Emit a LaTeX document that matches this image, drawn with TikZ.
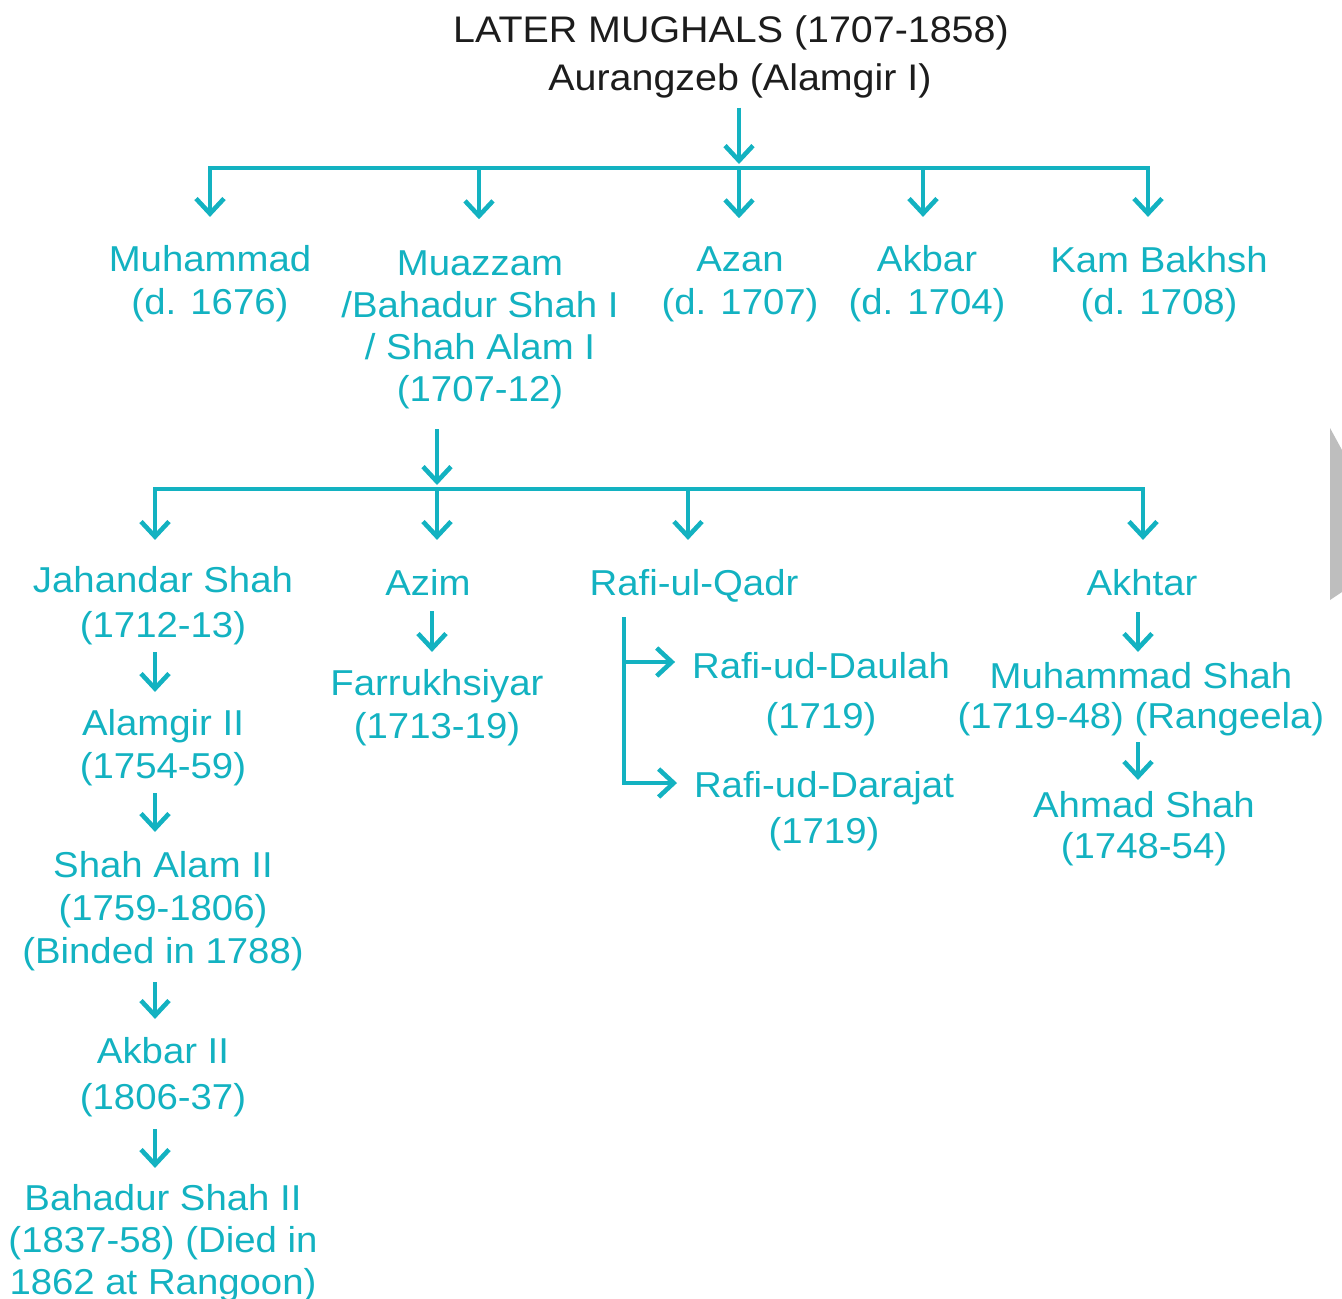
\documentclass[tikz,border=0pt]{standalone}
\usepackage{fontspec}
\setmainfont[FakeStretch=1.065]{Liberation Sans}
\usetikzlibrary{arrows.meta}
\definecolor{tealc}{RGB}{19,178,193}
\definecolor{inkc}{RGB}{28,28,28}
\definecolor{edgegray}{RGB}{190,190,190}
\begin{document}
\begin{tikzpicture}[x=1pt,y=-1pt,
  lbl/.style={inner sep=0pt, outer sep=0pt, align=center, anchor=base, text=tealc,
    font=\fontsize{36}{44}\selectfont,
    execute at begin node=\vphantom{(}, execute at end node=\vphantom{(}},
  ttl/.style={inner sep=0pt, outer sep=0pt, anchor=base, text=inkc, font=\fontsize{37}{44}\selectfont},
  conn/.style={draw=tealc, line width=4.6pt},
  arr/.style={conn, -{Straight Barb[length=15pt,width=28pt]}},
  arrb/.style={conn, {Straight Barb[length=15pt,width=28pt]}-{Straight Barb[length=15pt,width=28pt]}}
]
\useasboundingbox (0,0) rectangle (1342,1299);
\fill[edgegray] (1330,428) -- (1342,450) -- (1342,592) -- (1330,600) -- cycle;

% titles
\node[ttl] (title) at (731,42) {LATER MUGHALS (1707-1858)};
\node[ttl] (aur) at (740,90) {Aurangzeb (Alamgir I)};

% level 1 (positions are last-line baselines)
\node[lbl, font=\fontsize{36}{43}\selectfont] (muh) at (210,314) {Muhammad\\(d. 1676)};
\node[lbl, font=\fontsize{36}{42}\selectfont] (mua) at (480,401) {Muazzam\\/Bahadur Shah I\\/ Shah Alam I\\(1707-12)};
\node[lbl, font=\fontsize{36}{43}\selectfont] (azan) at (740,314) {Azan\\(d. 1707)};
\node[lbl, font=\fontsize{36}{43}\selectfont] (akb) at (927,314) {Akbar\\(d. 1704)};
\node[lbl, font=\fontsize{36}{42}\selectfont] (kam) at (1159,314) {Kam Bakhsh\\(d. 1708)};

% level 2
\node[lbl, font=\fontsize{36}{45}\selectfont] (jah) at (163,637) {Jahandar Shah\\(1712-13)};
\node[lbl] (azim) at (428,595) {Azim};
\node[lbl] (rq) at (694,595) {Rafi-ul-Qadr};
\node[lbl] (akh) at (1142,595) {Akhtar};

\node[lbl, font=\fontsize{36}{43}\selectfont] (far) at (437,738) {Farrukhsiyar\\(1713-19)};
\node[lbl, font=\fontsize{36}{43}\selectfont] (alm) at (163,778) {Alamgir II\\(1754-59)};
\node[lbl, font=\fontsize{36}{43}\selectfont] (sa2) at (163,963) {Shah Alam II\\(1759-1806)\\(Binded in 1788)};
\node[lbl, font=\fontsize{36}{46}\selectfont] (ak2) at (163,1109) {Akbar II\\(1806-37)};
\node[lbl, font=\fontsize{36}{42}\selectfont] (bs2) at (163,1294) {Bahadur Shah II\\(1837-58) (Died in\\1862 at Rangoon)};

\node[lbl, font=\fontsize{36}{50}\selectfont] (rud) at (821,728) {Rafi-ud-Daulah\\(1719)};
\node[lbl, font=\fontsize{36}{46}\selectfont] (rdj) at (824,843) {Rafi-ud-Darajat\\(1719)};

\node[lbl, font=\fontsize{36}{40}\selectfont] (msh) at (1141,728) {Muhammad Shah\\(1719-48) (Rangeela)};
\node[lbl, font=\fontsize{36}{41}\selectfont] (ahm) at (1144,858) {Ahmad Shah\\(1748-54)};

% junction coordinates
\coordinate (b1a) at (210,168);
\coordinate (b1b) at (479,168);
\coordinate (b1c) at (739,168);
\coordinate (b1d) at (923,168);
\coordinate (b1e) at (1148,168);
\coordinate (b2a) at (155,489);
\coordinate (b2b) at (437,489);
\coordinate (b2c) at (688,489);
\coordinate (b2d) at (1143,489);
\coordinate (rqt) at (624,617);

% first level connectors
\draw[arr, shorten <=10pt, shorten >=4pt] (b1c |- aur.south) -- (b1c);
\draw[arrb, shorten <=28pt, shorten >=29pt] (b1a |- muh.north) -- (b1a) -- (b1e) -- (b1e |- kam.north);
\draw[arr, shorten >=31pt] (b1b) -- (b1b |- mua.north);
\draw[arr, shorten >=28pt] (b1c) -- (b1c |- azan.north);
\draw[arr, shorten >=28pt] (b1d) -- (b1d |- akb.north);

% second level connectors
\draw[arr, shorten <=21pt, shorten >=4pt] (b2b |- mua.south) -- (b2b);
\draw[arrb, shorten <=26pt, shorten >=29pt] (b2a |- jah.north) -- (b2a) -- (b2d) -- (b2d |- akh.north);
\draw[arr, shorten >=29pt] (b2b) -- (b2b |- azim.north);
\draw[arr, shorten >=29pt] (b2c) -- (b2c |- rq.north);

% left chain
\draw[arr, shorten <=8pt, shorten >=17pt] ([xshift=-8pt]jah.south) -- ([xshift=-8pt]alm.north);
\draw[arr, shorten <=8pt, shorten >=19pt] ([xshift=-8pt]alm.south) -- ([xshift=-8pt]sa2.north);
\draw[arr, shorten <=12pt, shorten >=18pt] ([xshift=-8pt]sa2.south) -- ([xshift=-8pt]ak2.north);
\draw[arr, shorten <=13pt, shorten >=16pt] ([xshift=-8pt]ak2.south) -- ([xshift=-8pt]bs2.north);

% Azim chain
\draw[arr, shorten <=9pt, shorten >=17pt] ([xshift=4pt]azim.south) -- ([xshift=4pt]azim.south |- far.north);

% Akhtar chain
\draw[arr, shorten <=10pt, shorten >=10pt] ([xshift=-4pt]akh.south) -- ([xshift=-4pt]akh.south |- msh.north);
\draw[arr, shorten <=7pt, shorten >=11pt] ([xshift=-4pt]akh.south |- msh.south) -- ([xshift=-4pt]akh.south |- ahm.north);

% Rafi-ul-Qadr branches
\draw[arr, shorten >=17pt] (rqt) |- ([yshift=60pt]rdj.base west);
\draw[arr, shorten >=17pt] (rqt) |- ([yshift=66pt]rud.base west);
\end{tikzpicture}
\end{document}
